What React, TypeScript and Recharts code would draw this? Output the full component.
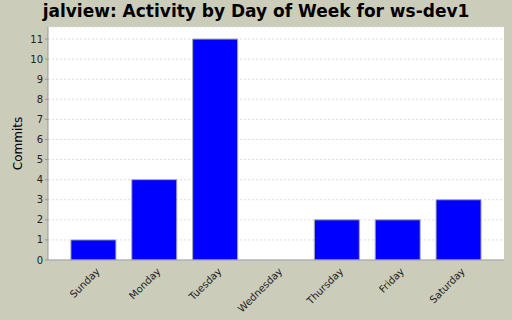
import { BarChart, Bar, XAxis, YAxis, CartesianGrid, Label } from "recharts";

const days = ["Sunday", "Monday", "Tuesday", "Wednesday", "Thursday", "Friday", "Saturday"];
const commits = [1, 4, 11, 0, 2, 2, 3];
const yTicks = [0, 1, 2, 3, 4, 5, 6, 7, 8, 9, 10, 11];

const data = days.map((day, i) => ({ day, commits: commits[i] }));

const FONT = "'DejaVu Sans', sans-serif";

const DayTick = (props: any) => {
  const { x, y, payload } = props;
  const ax = x + 7;
  const ay = y + 4;
  return (
    <text
      x={ax}
      y={ay}
      transform={`rotate(-45, ${ax}, ${ay})`}
      textAnchor="end"
      fontSize={10}
      fontFamily={FONT}
      fill="#222"
    >
      {payload.value}
    </text>
  );
};

export default function App() {
  return (
    <div
      style={{
        position: "absolute",
        left: 0,
        top: 0,
        width: 512,
        height: 320,
        background: "#CCCCBB",
        fontFamily: FONT,
      }}
    >
      <div
        style={{
          position: "absolute",
          top: 1,
          width: 512,
          textAlign: "center",
          fontSize: 17,
          fontWeight: "bold",
          color: "#000",
        }}
      >
        jalview: Activity by Day of Week for ws-dev1
      </div>
      <BarChart
        width={512}
        height={320}
        data={data}
        margin={{ top: 27, right: 8, left: 0, bottom: 0 }}
        barCategoryGap="13%"
      >
        <CartesianGrid vertical={false} fill="#fff" stroke="#ddd" strokeDasharray="2 2" />
        <XAxis
          dataKey="day"
          height={60}
          padding={{ left: 15, right: 15 }}
          interval={0}
          tickLine={false}
          axisLine={{ stroke: "#999" }}
          tick={<DayTick />}
        />
        <XAxis xAxisId="top" dataKey="day" orientation="top" height={0} tick={false} tickLine={false} axisLine={{ stroke: "#999" }} />
        <YAxis
          width={48}
          domain={[0, 11.6]}
          ticks={yTicks}
          interval={0}
          allowDataOverflow
          tickSize={3}
          tickLine={{ stroke: "#999" }}
          axisLine={{ stroke: "#999" }}
          tick={{ fontSize: 10, fill: "#222", fontFamily: FONT }}
        >
          <Label value="Commits" angle={-90} position="insideLeft" offset={18} style={{ fontSize: 12, fill: "#000", fontFamily: FONT, textAnchor: "middle" }} />
        </YAxis>
        <YAxis yAxisId="right" orientation="right" width={0} tick={false} tickLine={false} axisLine={{ stroke: "#999" }} />
        <Bar dataKey="commits" fill="#0000FF" stroke="#aaa" strokeWidth={1} isAnimationActive={false} />
      </BarChart>
    </div>
  );
}
